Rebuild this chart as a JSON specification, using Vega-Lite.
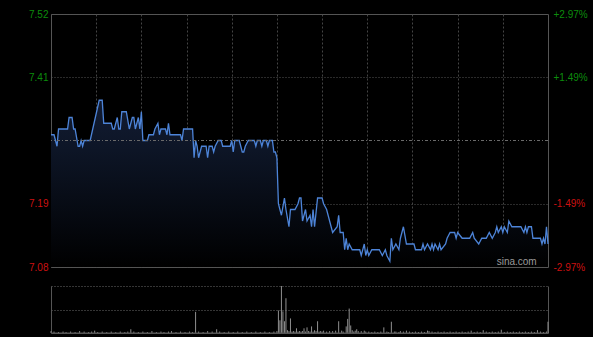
{
  "$schema": "https://vega.github.io/schema/vega-lite/v6.json",
  "background": "#000000",
  "padding": {"left": 28, "top": 8, "right": 5, "bottom": 5},
  "bounds": "flush",
  "spacing": 19,
  "config": {
    "view": {"stroke": "#555555", "strokeWidth": 1},
    "axis": {"labelFont": "Liberation Sans", "labelFontSize": 10, "ticks": false, "domain": false, "title": null}
  },
  "datasets": {
    "price": [
      {"t":0,"p":7.31},{"t":2,"p":7.31},{"t":4,"p":7.29},{"t":5,"p":7.32},{"t":11,"p":7.32},{"t":12,"p":7.34},{"t":14,"p":7.34},{"t":15,"p":7.32},{"t":16,"p":7.32},{"t":18,"p":7.29},{"t":19,"p":7.29},{"t":20,"p":7.30},{"t":21,"p":7.29},{"t":22,"p":7.30},{"t":26,"p":7.30},{"t":32,"p":7.37},{"t":34,"p":7.37},{"t":35,"p":7.33},{"t":40,"p":7.33},{"t":41,"p":7.32},{"t":42,"p":7.32},{"t":44,"p":7.34},{"t":45,"p":7.32},{"t":46,"p":7.32},{"t":47,"p":7.35},{"t":50,"p":7.35},{"t":52,"p":7.32},{"t":54,"p":7.34},{"t":55,"p":7.34},{"t":56,"p":7.32},{"t":58,"p":7.34},{"t":59,"p":7.32},{"t":60,"p":7.35},{"t":61,"p":7.30},{"t":64,"p":7.30},{"t":65,"p":7.31},{"t":68,"p":7.31},{"t":69,"p":7.32},{"t":71,"p":7.33},{"t":72,"p":7.31},{"t":73,"p":7.32},{"t":76,"p":7.32},{"t":77,"p":7.31},{"t":78,"p":7.33},{"t":79,"p":7.31},{"t":86,"p":7.31},{"t":87,"p":7.30},{"t":88,"p":7.32},{"t":94,"p":7.32},{"t":95,"p":7.27},{"t":96,"p":7.30},{"t":97,"p":7.29},{"t":98,"p":7.27},{"t":99,"p":7.28},{"t":100,"p":7.29},{"t":103,"p":7.29},{"t":104,"p":7.27},{"t":105,"p":7.29},{"t":107,"p":7.29},{"t":108,"p":7.28},{"t":109,"p":7.29},{"t":111,"p":7.30},{"t":113,"p":7.30},{"t":114,"p":7.29},{"t":119,"p":7.29},{"t":120,"p":7.30},{"t":121,"p":7.28},{"t":122,"p":7.30},{"t":125,"p":7.30},{"t":127,"p":7.28},{"t":128,"p":7.28},{"t":129,"p":7.29},{"t":131,"p":7.30},{"t":135,"p":7.30},{"t":136,"p":7.29},{"t":137,"p":7.30},{"t":139,"p":7.30},{"t":140,"p":7.29},{"t":141,"p":7.30},{"t":143,"p":7.30},{"t":144,"p":7.29},{"t":145,"p":7.30},{"t":147,"p":7.30},{"t":148,"p":7.28},{"t":149,"p":7.28},{"t":150,"p":7.27},{"t":151,"p":7.19},{"t":152,"p":7.18},{"t":153,"p":7.17},{"t":155,"p":7.20},{"t":156,"p":7.18},{"t":158,"p":7.15},{"t":159,"p":7.18},{"t":162,"p":7.18},{"t":164,"p":7.19},{"t":165,"p":7.20},{"t":166,"p":7.20},{"t":167,"p":7.16},{"t":169,"p":7.18},{"t":170,"p":7.16},{"t":172,"p":7.17},{"t":173,"p":7.15},{"t":174,"p":7.18},{"t":175,"p":7.15},{"t":177,"p":7.20},{"t":180,"p":7.20},{"t":181,"p":7.19},{"t":183,"p":7.18},{"t":185,"p":7.16},{"t":187,"p":7.14},{"t":190,"p":7.15},{"t":191,"p":7.17},{"t":192,"p":7.14},{"t":194,"p":7.14},{"t":195,"p":7.11},{"t":196,"p":7.13},{"t":197,"p":7.11},{"t":198,"p":7.12},{"t":200,"p":7.11},{"t":205,"p":7.11},{"t":206,"p":7.10},{"t":208,"p":7.12},{"t":209,"p":7.10},{"t":210,"p":7.11},{"t":211,"p":7.10},{"t":213,"p":7.11},{"t":218,"p":7.11},{"t":220,"p":7.10},{"t":222,"p":7.11},{"t":223,"p":7.10},{"t":225,"p":7.09},{"t":226,"p":7.13},{"t":227,"p":7.11},{"t":229,"p":7.12},{"t":231,"p":7.11},{"t":232,"p":7.13},{"t":234,"p":7.15},{"t":236,"p":7.12},{"t":241,"p":7.12},{"t":242,"p":7.11},{"t":246,"p":7.11},{"t":247,"p":7.12},{"t":248,"p":7.11},{"t":250,"p":7.12},{"t":252,"p":7.11},{"t":253,"p":7.12},{"t":254,"p":7.11},{"t":255,"p":7.12},{"t":257,"p":7.11},{"t":258,"p":7.12},{"t":259,"p":7.11},{"t":262,"p":7.12},{"t":263,"p":7.13},{"t":265,"p":7.14},{"t":268,"p":7.14},{"t":269,"p":7.13},{"t":270,"p":7.14},{"t":273,"p":7.13},{"t":278,"p":7.13},{"t":280,"p":7.14},{"t":281,"p":7.13},{"t":284,"p":7.12},{"t":286,"p":7.13},{"t":289,"p":7.13},{"t":291,"p":7.14},{"t":293,"p":7.13},{"t":295,"p":7.14},{"t":296,"p":7.15},{"t":297,"p":7.14},{"t":299,"p":7.15},{"t":300,"p":7.14},{"t":301,"p":7.15},{"t":303,"p":7.14},{"t":304,"p":7.16},{"t":306,"p":7.15},{"t":312,"p":7.15},{"t":314,"p":7.14},{"t":315,"p":7.15},{"t":316,"p":7.14},{"t":317,"p":7.15},{"t":319,"p":7.15},{"t":320,"p":7.13},{"t":325,"p":7.13},{"t":326,"p":7.12},{"t":327,"p":7.13},{"t":328,"p":7.12},{"t":329,"p":7.15},{"t":330,"p":7.12}
    ],
    "volume": [
      {"t":0,"v":4},{"t":2,"v":3},{"t":5,"v":2},{"t":8,"v":3},{"t":10,"v":2},{"t":13,"v":3},{"t":16,"v":2},{"t":19,"v":4},{"t":22,"v":3},{"t":25,"v":2},{"t":27,"v":3},{"t":29,"v":5},{"t":31,"v":2},{"t":34,"v":3},{"t":37,"v":2},{"t":40,"v":3},{"t":43,"v":2},{"t":46,"v":3},{"t":49,"v":2},{"t":51,"v":3},{"t":53,"v":8},{"t":55,"v":3},{"t":58,"v":2},{"t":61,"v":3},{"t":64,"v":2},{"t":67,"v":4},{"t":70,"v":2},{"t":73,"v":3},{"t":75,"v":2},{"t":78,"v":3},{"t":80,"v":4},{"t":83,"v":2},{"t":86,"v":3},{"t":89,"v":2},{"t":92,"v":3},{"t":94,"v":2},{"t":96,"v":45},{"t":98,"v":3},{"t":101,"v":2},{"t":104,"v":4},{"t":107,"v":3},{"t":110,"v":8},{"t":112,"v":3},{"t":115,"v":2},{"t":118,"v":3},{"t":121,"v":2},{"t":124,"v":3},{"t":127,"v":2},{"t":130,"v":3},{"t":133,"v":2},{"t":136,"v":3},{"t":139,"v":2},{"t":142,"v":3},{"t":145,"v":2},{"t":148,"v":3},{"t":150,"v":4},
      {"t":151,"v":48},{"t":152,"v":27},{"t":153,"v":100},{"t":154,"v":46},{"t":155,"v":25},{"t":156,"v":74},{"t":157,"v":6},{"t":158,"v":4},{"t":159,"v":31},{"t":160,"v":3},{"t":161,"v":4},{"t":162,"v":3},{"t":163,"v":10},{"t":164,"v":3},{"t":165,"v":4},{"t":166,"v":3},{"t":167,"v":4},{"t":168,"v":10},{"t":169,"v":3},{"t":170,"v":12},{"t":171,"v":4},{"t":172,"v":3},{"t":173,"v":14},{"t":174,"v":3},{"t":175,"v":6},{"t":176,"v":4},{"t":177,"v":25},{"t":178,"v":3},{"t":179,"v":4},{"t":180,"v":3},{"t":181,"v":5},{"t":183,"v":3},{"t":185,"v":4},{"t":187,"v":4},{"t":189,"v":5},{"t":191,"v":25},{"t":193,"v":5},{"t":194,"v":3},{"t":196,"v":14},{"t":197,"v":30},{"t":198,"v":52},{"t":199,"v":16},{"t":200,"v":6},{"t":201,"v":3},{"t":202,"v":5},{"t":203,"v":8},{"t":204,"v":4},{"t":206,"v":4},{"t":208,"v":5},{"t":209,"v":3},{"t":211,"v":3},{"t":213,"v":2},{"t":215,"v":3},{"t":217,"v":2},{"t":219,"v":3},{"t":221,"v":12},{"t":223,"v":3},{"t":224,"v":2},{"t":226,"v":24},{"t":228,"v":3},{"t":229,"v":3},{"t":231,"v":2},{"t":232,"v":4},{"t":234,"v":3},{"t":236,"v":5},{"t":238,"v":3},{"t":240,"v":2},{"t":242,"v":3},{"t":244,"v":2},{"t":246,"v":3},{"t":248,"v":2},{"t":250,"v":5},{"t":251,"v":4},{"t":253,"v":3},{"t":255,"v":2},{"t":257,"v":3},{"t":259,"v":2},{"t":261,"v":3},{"t":263,"v":2},{"t":265,"v":3},{"t":267,"v":2},{"t":269,"v":3},{"t":271,"v":2},{"t":273,"v":3},{"t":275,"v":2},{"t":277,"v":3},{"t":279,"v":5},{"t":281,"v":2},{"t":283,"v":3},{"t":285,"v":2},{"t":287,"v":6},{"t":289,"v":3},{"t":291,"v":2},{"t":293,"v":3},{"t":295,"v":2},{"t":297,"v":3},{"t":299,"v":7},{"t":301,"v":2},{"t":303,"v":3},{"t":305,"v":2},{"t":307,"v":3},{"t":309,"v":2},{"t":311,"v":3},{"t":313,"v":2},{"t":315,"v":3},{"t":317,"v":2},{"t":319,"v":3},{"t":321,"v":2},{"t":323,"v":6},{"t":325,"v":3},{"t":327,"v":2},{"t":329,"v":3},{"t":330,"v":24}
    ],
    "prevclose": [{"prev": 7.30}],
    "site": [{"name": "sina.com"}]
  },
  "vconcat": [
    {
      "width": 497,
      "height": 253,
      "layer": [
        {
          "data": {"name": "price"},
          "mark": {"type": "area", "line": false, "color": {"gradient": "linear", "x1": 1, "y1": 0, "x2": 1, "y2": 1, "stops": [{"offset": 0, "color": "#121c33"}, {"offset": 0.3, "color": "#0d1526"}, {"offset": 1, "color": "#000000"}]}},
          "encoding": {
            "x": {"field": "t", "type": "quantitative", "scale": {"domain": [0, 330], "nice": false},
                  "axis": {"values": [30, 60, 90, 120, 150, 180, 210, 240, 270, 300], "labels": false, "grid": true, "gridColor": "#444444", "gridDash": [2, 2]}},
            "y": {"field": "p", "type": "quantitative", "scale": {"domain": [7.08, 7.52], "nice": false, "zero": false},
                  "axis": {"values": [7.08, 7.19, 7.41, 7.52], "format": ".2f", "grid": true, "gridColor": "#555555", "gridDash": [1, 2], "labelPadding": 3,
                           "labelColor": {"condition": {"test": "datum.value > 7.3", "value": "#0c8c0c"}, "value": "#cc1111"}}},
            "y2": {"datum": 7.08}
          }
        },
        {
          "data": {"name": "price"},
          "mark": {"type": "line", "color": "#4d84d8", "strokeWidth": 1.3},
          "encoding": {
            "x": {"field": "t", "type": "quantitative"},
            "y": {"field": "p", "type": "quantitative", "axis": null}
          }
        },
        {
          "data": {"name": "prevclose"},
          "mark": {"type": "rule", "color": "#6a6a6a", "strokeDash": [3, 2, 1, 2], "strokeWidth": 1},
          "encoding": {
            "y": {"field": "prev", "type": "quantitative",
                  "axis": {"orient": "right", "values": [7.08, 7.19, 7.41, 7.52], "grid": false, "labelPadding": 5,
                           "labelExpr": "datum.value > 7.5 ? '+2.97%' : datum.value > 7.4 ? '+1.49%' : datum.value > 7.15 ? '-1.49%' : '-2.97%'",
                           "labelColor": {"condition": {"test": "datum.value > 7.3", "value": "#0c8c0c"}, "value": "#cc1111"}}}
          }
        },
        {
          "data": {"name": "site"},
          "mark": {"type": "text", "align": "right", "baseline": "alphabetic", "font": "Liberation Sans", "fontSize": 10, "color": "#9a9a9a"},
          "encoding": {
            "x": {"datum": 322.5, "type": "quantitative"},
            "y": {"datum": 7.083, "type": "quantitative", "axis": null},
            "text": {"field": "name"}
          }
        }
      ],
      "resolve": {"axis": {"y": "independent"}}
    },
    {
      "width": 497,
      "height": 47,
      "view": {"stroke": null},
      "layer": [
        {
          "data": {"name": "volume"},
          "mark": {"type": "rule", "color": "#8f8f8f", "strokeWidth": 1},
          "encoding": {
            "x": {"field": "t", "type": "quantitative", "scale": {"domain": [0, 330], "nice": false},
                  "axis": {"labels": false, "grid": false, "domain": true, "domainColor": "#555555"}},
            "y": {"field": "v", "type": "quantitative", "scale": {"domain": [0, 100], "nice": false},
                  "axis": {"values": [50, 100], "labels": false, "grid": true, "gridColor": "#6a6a6a", "gridDash": [1, 2], "domain": true, "domainColor": "#555555"}},
            "y2": {"datum": 0}
          }
        },
        {
          "data": {"name": "prevclose"},
          "mark": {"type": "rule", "color": "#555555", "strokeWidth": 1},
          "encoding": {
            "y": {"datum": 0, "type": "quantitative",
                  "axis": {"orient": "right", "labels": false, "grid": false, "domain": true, "domainColor": "#555555"}}
          }
        }
      ],
      "resolve": {"axis": {"y": "independent"}}
    }
  ]
}
